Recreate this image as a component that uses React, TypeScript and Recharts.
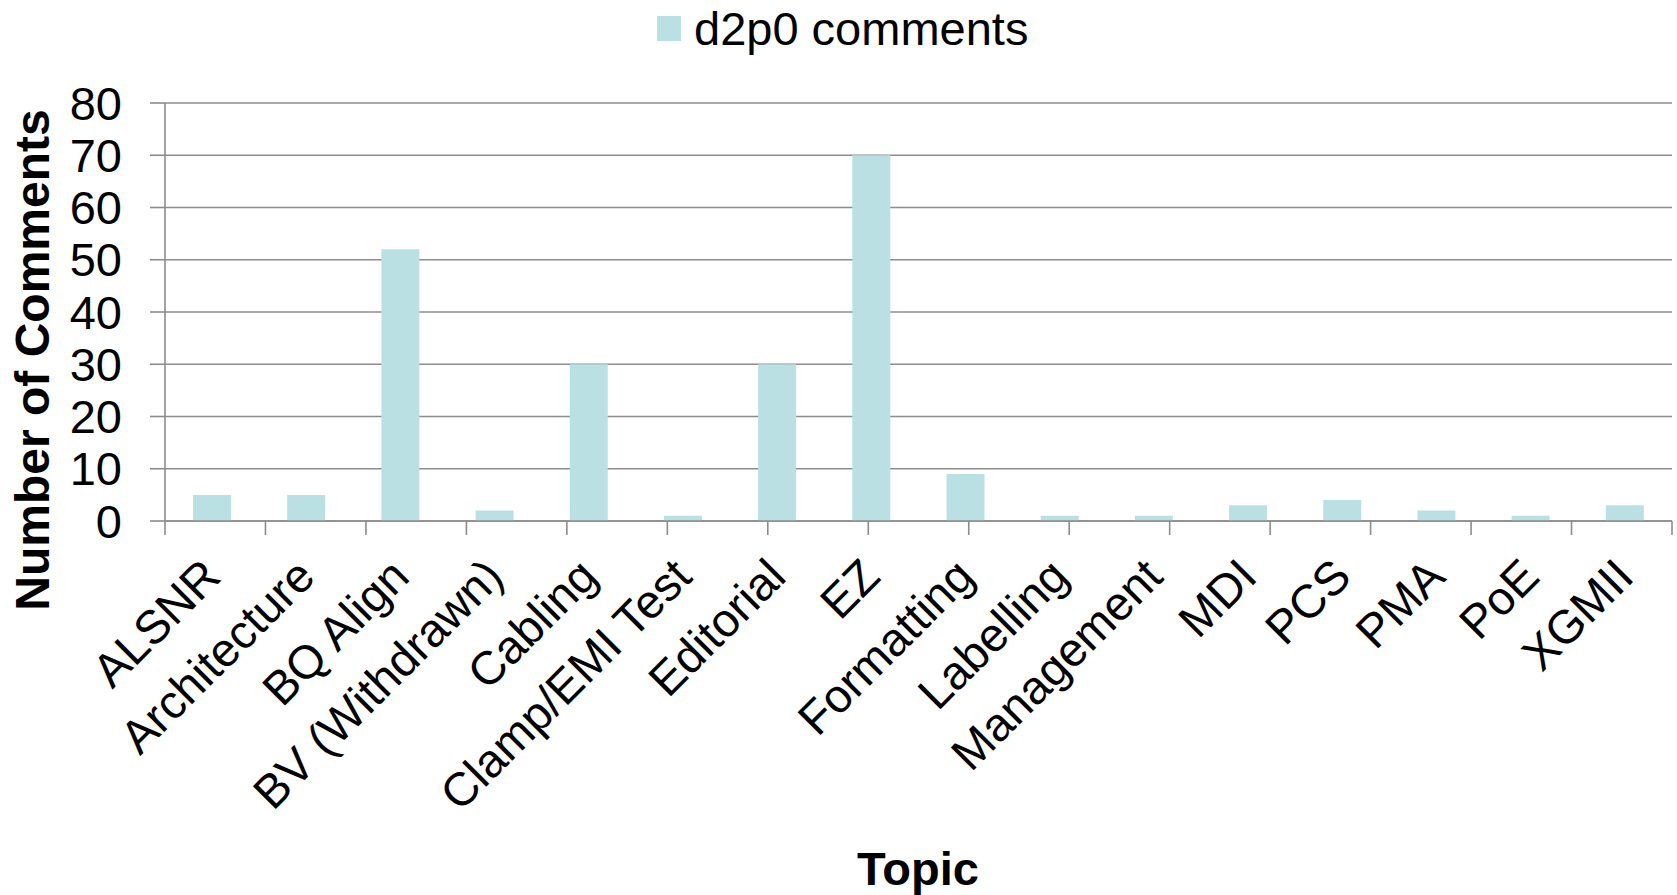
import React from "react";
import {
  BarChart,
  Bar,
  XAxis,
  YAxis,
  CartesianGrid,
  Legend,
  Label,
} from "recharts";

const topics = [
  "ALSNR",
  "Architecture",
  "BQ Align",
  "BV (Withdrawn)",
  "Cabling",
  "Clamp/EMI Test",
  "Editorial",
  "EZ",
  "Formatting",
  "Labelling",
  "Management",
  "MDI",
  "PCS",
  "PMA",
  "PoE",
  "XGMII",
];
const d2p0Comments = [5, 5, 52, 2, 30, 1, 30, 70, 9, 1, 1, 3, 4, 2, 1, 3];
const yTicks = [0, 10, 20, 30, 40, 50, 60, 70, 80];
const seriesName = "d2p0 comments";

const data = topics.map((topic, i) => ({ topic, comments: d2p0Comments[i] }));
// boundaries between categories, used for the Excel-style tick marks
const edgeTicks = [...topics.map((_, i) => i), topics.length];

const FONT = '"Liberation Sans", Arial, sans-serif';
const BAR = "#BBE0E3";
const GRID = "#8C8C8C";

function TopicTick({ x, y, payload }: any) {
  const tx = x + 11;
  const ty = y + 44;
  return (
    <text
      x={tx}
      y={ty}
      transform={`rotate(-45, ${tx}, ${ty})`}
      textAnchor="end"
      fill="#000"
      fontSize={47}
      fontFamily={FONT}
    >
      {payload.value}
    </text>
  );
}

function EmptyTick() {
  return <g />;
}

function LegendBox() {
  return (
    <div style={{ position: "relative", width: 1677, height: 50, fontFamily: FONT }}>
      <span
        style={{
          position: "absolute",
          left: 657,
          top: 16,
          width: 24,
          height: 25,
          background: BAR,
        }}
      />
      <span
        style={{
          position: "absolute",
          left: 694,
          top: 5,
          fontSize: 47,
          lineHeight: "47px",
          color: "#000",
          whiteSpace: "nowrap",
        }}
      >
        {seriesName}
      </span>
    </div>
  );
}

export default function App() {
  return (
    <div style={{ width: 1677, height: 895, background: "#fff" }}>
      <style>{`body{margin:0}`}</style>
      <BarChart
        width={1677}
        height={895}
        data={data}
        margin={{ top: 53, right: 5, bottom: 0, left: 0 }}
      >
        <Legend
          verticalAlign="top"
          wrapperStyle={{ top: 0, left: 0, width: 1677, height: 50 }}
          content={() => <LegendBox />}
        />
        <CartesianGrid
          xAxisId={1}
          vertical={false}
          stroke={GRID}
          strokeWidth={1.6}
        />
        <XAxis
          xAxisId={0}
          type="number"
          domain={[0, topics.length]}
          ticks={edgeTicks}
          allowDataOverflow
          interval={0}
          height={14}
          tick={<EmptyTick />}
          tickSize={14}
          tickLine={{ stroke: GRID, strokeWidth: 1.6 }}
          axisLine={{ stroke: GRID, strokeWidth: 1.6 }}
        />
        <XAxis
          xAxisId={1}
          dataKey="topic"
          type="category"
          height={360}
          interval={0}
          axisLine={false}
          tickLine={false}
          tickSize={0}
          tickMargin={0}
          tick={<TopicTick />}
        >
          <Label
            content={() => (
              <text
                x={918}
                y={885}
                textAnchor="middle"
                fontSize={47}
                fontWeight="bold"
                fontFamily={FONT}
                fill="#000"
              >
                Topic
              </text>
            )}
          />
        </XAxis>
        <YAxis
          width={165}
          domain={[0, 80]}
          ticks={yTicks}
          interval={0}
          tickSize={15}
          tickMargin={28}
          tick={{ fill: "#000", fontSize: 47, fontFamily: FONT }}
          tickLine={{ stroke: GRID, strokeWidth: 1.6 }}
          axisLine={{ stroke: GRID, strokeWidth: 1.6 }}
        >
          <Label
            content={() => (
              <text
                x={32}
                y={360}
                transform="rotate(-90, 32, 360)"
                textAnchor="middle"
                dominantBaseline="central"
                fontSize={48}
                fontWeight="bold"
                fontFamily={FONT}
                fill="#000"
              >
                Number of Comments
              </text>
            )}
          />
        </YAxis>
        <Bar
          xAxisId={1}
          dataKey="comments"
          name={seriesName}
          fill={BAR}
          barSize={38}
          isAnimationActive={false}
        />
      </BarChart>
    </div>
  );
}
